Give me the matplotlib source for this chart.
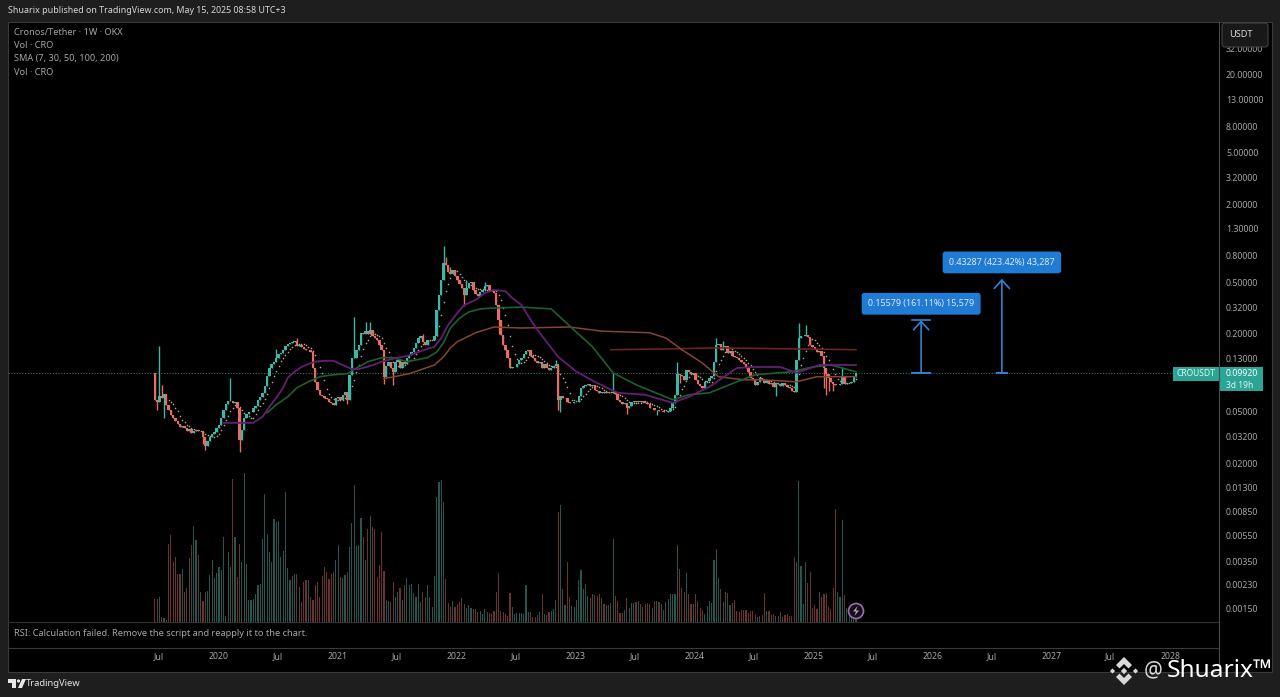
import datetime as dt

import numpy as np
import pandas as pd
import matplotlib
matplotlib.use("Agg")
import matplotlib.pyplot as plt
import matplotlib.dates as mdates
from matplotlib.patches import Polygon, Rectangle, Circle, FancyBboxPatch

# weekly closes
closes = [
 .062, .0598, .0665, .0642, .0689, .0567, .0518, .0474, .045, .0426,
 .0404, .0383, .039, .0376, .0356, .037, .0344, .0356, .0363, .0356,
 .0356, .032, .0273, .0298, .032, .0338, .035, .0376, .0397, .045,
 .0518, .0577, .0609, .0609, .0587, .0598, .0537, .0304, .0363, .045,
 .0483, .05, .05, .0537, .0557, .062, .0653, .0701, .0795, .095,
 .109, .117, .122, .131, .14, .143, .151, .162, .168, .171,
 .174, .177, .162, .165, .159, .153, .151, .151, .145, .109,
 .0853, .074, .0677, .0665, .0642, .0631, .0598, .0587, .0567, .0642,
 .0653, .062, .0677, .0714, .062, .0967, .131, .131, .151, .165,
 .204, .2, .21, .2, .215, .193, .186, .18, .165, .151,
 .0934, .113, .122, .109, .102, .122, .126, .109, .122, .117,
 .131, .137, .145, .156, .171, .186, .193, .174, .165, .18,
 .18, .18, .193, .306, .4, .52, .706, .68, .6, .58,
 .622, .56, .52, .486, .453, .4, .453, .495, .505, .436,
 .406, .392, .421, .436, .47, .478, .436, .428, .413, .334,
 .256, .196, .165, .151, .131, .109, .111, .111, .117, .126,
 .131, .14, .148, .151, .135, .131, .124, .119, .122, .109,
 .117, .109, .105, .109, .113, .117, .062, .0665, .0642, .0642,
 .0598, .0587, .0587, .0598, .0598, .0665, .0767, .0795, .0809, .0823,
 .0795, .0809, .074, .0727, .0701, .0714, .0701, .0714, .0701, .0701,
 .0714, .0689, .062, .0598, .0577, .0587, .0537, .0557, .0598, .0609,
 .0598, .0609, .0598, .0609, .0587, .0577, .0537, .0537, .0518, .0518,
 .0509, .0509, .05, .05, .0509, .0537, .0587, .0677, .0985, .0967,
 .095, .0884, .105, .102, .0985, .1, .0884, .0823, .0795, .0767,
 .0853, .0868, .0917, .095, .122, .165, .168, .151, .159, .162,
 .143, .148, .135, .133, .131, .126, .122, .117, .109, .102,
 .0917, .0884, .0809, .0853, .0917, .0884, .0838, .0884, .0823, .0838,
 .078, .0838, .0823, .0795, .0838, .0809, .078, .0767, .0727, .0714,
 .126, .186, .193, .193, .196, .19, .165, .159, .153, .145,
 .148, .135, .109, .0985, .0917, .0853, .0823, .0809, .0809, .0823,
 .095, .0823, .0838, .0838, .0853, .0934, .0992,
]
first_open = 0.1

# the wicks that stick out enough to read
high_weeks = [2, 3, 33, 53, 62, 87, 92, 94, 117, 126, 127, 129, 136, 144, 175, 200, 228, 245, 248, 281, 284, 300]
high_vals = [.162, .081, .0917, .152, .185, .27, .247, .247, .2, .96, .78, .66, .52, .5, .126, .1, .122, .186, .175, .243, .235, .11]
low_weeks = [1, 4, 21, 22, 37, 84, 100, 104, 135, 150, 176, 177, 206, 219, 229, 271, 292, 293, 294, 296]
low_vals = [.052, .045, .028, .0254, .0245, .057, .082, .081, .33, .2, .052, .05, .048, .047, .083, .0665, .077, .0677, .073, .072]

# volume, both Vol studies stacked on the same scale
volumes = [
 23, 23, 25, 5, 4, 2, 78, 87, 60, 65,
 48, 48, 53, 30, 34, 64, 77, 96, 82, 67,
 30, 21, 30, 31, 47, 62, 44, 49, 55, 52,
 85, 6, 70, 55, 143, 85, 45, 78, 60, 149,
 58, 22, 22, 23, 28, 37, 38, 83, 128, 88,
 70, 60, 103, 100, 101, 65, 71, 130, 54, 42,
 46, 48, 48, 35, 20, 40, 42, 42, 25, 22,
 37, 40, 25, 46, 55, 50, 43, 48, 50, 62,
 77, 45, 44, 47, 50, 75, 99, 137, 76, 77,
 104, 85, 62, 93, 106, 95, 93, 45, 57, 90,
 51, 22, 21, 20, 40, 25, 30, 34, 22, 37,
 44, 37, 38, 29, 25, 38, 20, 30, 25, 37,
 25, 15, 46, 125, 140, 142, 120, 43, 19, 15,
 21, 15, 18, 20, 24, 18, 14, 17, 14, 13,
 13, 10, 11, 8, 13, 10, 9, 8, 11, 30,
 49, 11, 10, 8, 6, 29, 15, 8, 9, 9,
 9, 8, 37, 10, 10, 5, 5, 7, 10, 28,
 8, 7, 10, 11, 13, 22, 110, 117, 33, 17,
 60, 25, 16, 15, 22, 42, 52, 33, 38, 26,
 24, 28, 27, 26, 28, 24, 18, 17, 17, 19,
 83, 26, 21, 9, 9, 12, 24, 14, 19, 19,
 20, 21, 18, 15, 18, 19, 18, 14, 21, 21,
 20, 18, 12, 20, 23, 28, 28, 28, 77, 53,
 34, 30, 49, 28, 18, 18, 28, 21, 14, 12,
 8, 16, 21, 19, 62, 73, 44, 33, 20, 30,
 29, 17, 19, 22, 11, 10, 12, 12, 12, 9,
 11, 11, 8, 5, 6, 7, 29, 11, 11, 7,
 8, 6, 6, 10, 5, 7, 8, 6, 6, 65,
 60, 141, 56, 18, 60, 39, 50, 14, 17, 13,
 30, 25, 28, 29, 15, 13, 34, 113, 30, 25,
 102, 27, 14, 10, 6, 5, 4,
]

# moving averages read as (week, price)
sma30_weeks = [30, 37, 43, 47, 50, 53, 56, 58, 61, 64, 67, 70, 74, 78, 81, 86, 89, 94, 99, 106, 110, 115, 119, 122, 125, 128, 132, 135, 140, 144, 148, 153,
               156, 160, 166, 176, 184, 192, 202, 214, 226, 233, 242, 254, 261, 273, 280, 290, 306]
sma30_vals = [.0411, .0411, .0411, .0458, .0547, .0642, .0767, .0917, .102, .111, .117, .122, .124, .124, .117, .107, .107, .113, .122, .131, .135, .145, .153, .159, .186, .234, .29, .334, .366, .413, .436, .428,
              .378, .334, .226, .133, .102, .0853, .0701, .0677, .0587, .0653, .078, .109, .111, .111, .1, .115, .115]
sma50_weeks = [49, 53, 58, 62, 67, 69, 72, 78, 84, 88, 93, 99, 104, 110, 119, 123, 126, 129, 133, 137, 142, 148, 160, 173, 182, 191, 200, 210, 226, 233, 242, 254, 262, 278, 287, 295, 306]
sma50_vals = [.0491, .0567, .0653, .0767, .0853, .0884, .0934, .0967, .0985, .109, .122, .131, .131, .122, .131, .145, .171, .222, .265, .295, .312, .317, .322, .312, .222, .159, .1, .0809, .062, .0677, .0701, .0853, .0967, .102, .111, .115, .102]
sma100_weeks = [100, 111, 122, 126, 129, 132, 140, 148, 160, 181, 195, 216, 223, 230, 239, 246, 257, 265, 280, 289, 306]
sma100_vals = [.0901, .0985, .115, .133, .156, .174, .204, .226, .222, .226, .21, .204, .186, .151, .119, .0934, .0884, .0884, .0853, .0934, .0934]
sma200_weeks = [199, 224, 245, 280, 306]
sma200_vals = [.151, .153, .156, .153, .151]

price_ticks = [32, 20, 13, 8, 5, 3.2, 2, 1.3, .8, .5, .32, .2, .13, .05, .032, .02, .013, .0085, .0055, .0035, .0023, .0015]
time_ticks = ["2019-07-01", "2020-01-01", "2020-07-01", "2021-01-01", "2021-07-01", "2022-01-01", "2022-07-01", "2023-01-01", "2023-07-01",
              "2024-01-01", "2024-07-01", "2025-01-01", "2025-07-01", "2026-01-01", "2026-07-01", "2027-01-01", "2027-07-01", "2028-01-01"]
time_labels = ["Jul", "2020", "Jul", "2021", "Jul", "2022", "Jul", "2023", "Jul", "2024", "Jul", "2025", "Jul", "2026", "Jul", "2027", "Jul", "2028"]

target_dates = ["2025-11-27", "2026-08-02"]
target_gains = [.15579, .43287]
target_labels = ["0.15579 (161.11%) 15,579", "0.43287 (423.42%) 43,287"]
base_tees = [27, 15]
top_tees = [27, 0]

W, H = 1280, 697
FONT = ["Noto Sans", "DejaVu Sans"]
plt.rcParams["font.family"] = FONT
UP, DOWN = "#3cb8a8", "#e66d62"
TXT = "#a3a6ab"
BLUE = "#2f83d6"


def px_axes(l, t, r, b, **kw):
    return fig.add_axes([l / W, 1 - b / H, (r - l) / W, (b - t) / H], **kw)


fig = plt.figure(figsize=(W / 100, H / 100), dpi=100, facecolor="#1e1e1e")

# page furniture sits in two pixel-coordinate layers
back = px_axes(0, 0, W, H, zorder=0)
back.set_xlim(0, W)
back.set_ylim(H, 0)
back.axis("off")
back.add_patch(Rectangle((8, 22), 1264, 650, fc="black", ec="#3a3a3a", lw=0.8))

base = mdates.date2num(dt.date(2020, 1, 1))
# first and last candle sit where the reference has them, slightly over a 7 day step
weeks = np.linspace(base - 197, base + 1957, len(closes))
xlim = (base - 648, base + 3072)

ax = px_axes(8, 22, 1219, 622, zorder=2)
ax.set_facecolor("none")
ax.set_yscale("log")
ax.set_xlim(xlim)
ax.set_ylim(0.00119, 51.3)

c = np.array(closes)
o = np.r_[first_open, c[:-1]]
hi = np.maximum(o, c)
lo = np.minimum(o, c)
hi[high_weeks] = high_vals
lo[low_weeks] = low_vals
up = c >= o
cols = np.where(up, UP, DOWN)

ax.axhline(closes[-1], color="#2f6f66", lw=0.8, ls=(0, (1, 1.5)), zorder=1)

sma7 = pd.Series(closes).rolling(7).mean()
ax.scatter(weeks, sma7, s=1.3, color="#d8c8a0", alpha=0.85, lw=0, zorder=2)

ax.vlines(weeks, lo, hi, colors=cols, lw=1.0, zorder=3)
ax.bar(weeks, np.abs(c - o), bottom=np.minimum(o, c), width=7.5, color=cols, lw=0, zorder=3)

ma_style = dict(zorder=4, solid_joinstyle="round")
ax.plot(weeks[sma200_weeks], sma200_vals, color="#72261d", lw=1.1, **ma_style)
ax.plot(weeks[sma100_weeks], sma100_vals, color="#84462f", lw=1.1, **ma_style)
ax.plot(weeks[sma50_weeks], sma50_vals, color="#1c6030", lw=1.2, **ma_style)
ax.plot(weeks[sma30_weeks], sma30_vals, color="#641f74", lw=1.3, **ma_style)

# measured targets above the last close
for d, g, label, bt, tt in zip(target_dates, target_gains, target_labels, base_tees, top_tees):
    x = mdates.date2num(dt.date.fromisoformat(d))
    top_price = closes[-1] + g
    ax.annotate("", xy=(x, top_price), xytext=(x, closes[-1]),
                arrowprops=dict(arrowstyle="->,head_width=0.55,head_length=0.6", color=BLUE, lw=1.2, shrinkA=0, shrinkB=0), zorder=5)
    ax.plot([x - bt, x + bt], [closes[-1], closes[-1]], color=BLUE, lw=1.4, zorder=5)
    if tt:
        ax.plot([x - tt, x + tt], [top_price, top_price], color=BLUE, lw=1.2, zorder=5)
    ax.text(x, top_price * 1.34, label, color="#dcecff", fontsize=6.4, fontweight="bold", ha="center", va="center", zorder=7,
            bbox=dict(boxstyle="round,pad=0.72,rounding_size=0.3", fc="#1f7bd3", ec="none"))

ax.yaxis.tick_right()
ax.set_yticks(price_ticks)
ax.set_yticklabels(["%.5f" % t for t in price_ticks], color=TXT, fontsize=6.3)
ax.minorticks_off()
ax.tick_params(axis="y", length=0, pad=5)
ax.tick_params(axis="x", length=0, labelbottom=False)
for s in ax.spines.values():
    s.set_visible(False)

# volume pane shares the bottom of the price pane
ax_vol = px_axes(8, 22, 1219, 622, zorder=1)
ax_vol.set_facecolor("none")
ax_vol.set_xlim(xlim)
ax_vol.set_ylim(0, 600)
ax_vol.axis("off")
vol_cols = np.where(up, "#255650", "#6a332f")
ax_vol.bar(weeks, volumes, width=3.5, color=vol_cols, lw=0)

# empty RSI pane carries the time axis
ax_rsi = px_axes(8, 622, 1219, 648, zorder=2)
ax_rsi.set_facecolor("none")
ax_rsi.set_xlim(xlim)
ax_rsi.set_ylim(0, 1)
ax_rsi.set_yticks([])
ax_rsi.set_xticks([mdates.date2num(dt.date.fromisoformat(t)) for t in time_ticks])
ax_rsi.set_xticklabels(time_labels, color=TXT, fontsize=6.3)
ax_rsi.tick_params(axis="x", length=0, pad=3)
for s in ax_rsi.spines.values():
    s.set_visible(False)
ax_rsi.text(6 / 1211, 0.55, "RSI: Calculation failed. Remove the script and reapply it to the chart.",
            transform=ax_rsi.transAxes, color=TXT, fontsize=6.65, va="center")

top = px_axes(0, 0, W, H, zorder=10)
top.set_facecolor("none")
top.set_xlim(0, W)
top.set_ylim(H, 0)
top.axis("off")

top.plot([8, 1219], [622, 622], color="#333333", lw=0.8)
top.plot([8, 1219], [648, 648], color="#3a3a3a", lw=0.8)
top.plot([1219, 1219], [22, 672], color="#4a4a4a", lw=0.8)

top.text(8, 10.5, "Shuarix published on TradingView.com, May 15, 2025 08:58 UTC+3", color="#d6d6d6", fontsize=6.4, fontweight="semibold", va="center")
legend_rows = ["Cronos/Tether · 1W · OKX", "Vol · CRO", "SMA (7, 30, 50, 100, 200)", "Vol · CRO"]
for y, row in zip([32.5, 46, 59, 72.5], legend_rows):
    top.text(14, y, row, color=TXT, fontsize=6.6, va="center")

# currency button covers the top of the scale, as in the reference
top.add_patch(FancyBboxPatch((1222, 23), 46, 24, boxstyle="round,pad=0,rounding_size=3", fc="#181818", ec="#444444", lw=0.8))
top.text(1229, 34.5, "USDT", color="#d8d8d8", fontsize=6.6, fontweight="semibold", va="center")

# last price tag
top.add_patch(Rectangle((1173, 367), 46, 14, fc="#2aa596", ec="none"))
top.add_patch(Rectangle((1219, 367), 44, 24, fc="#2aa596", ec="none"))
top.text(1196, 374, "CROUSDT", color="#e4f5f2", fontsize=6.1, ha="center", va="center")
top.text(1226, 374, "0.09920", color="#ffffff", fontsize=6.3, fontweight="semibold", va="center")
top.text(1226, 385, "3d 19h", color="#e4f5f2", fontsize=6.1, va="center")

# lightning button
top.add_patch(Circle((856, 611), 7.5, fc="#151018", ec="#9b6fb5", lw=1.2))
top.add_patch(Polygon([(857.5, 606), (853, 611.5), (856, 611.5), (854.5, 616), (859, 610.5), (856, 610.5)], fc="#b9a0c8", ec="none"))

# footer logo
top.add_patch(Polygon([(8, 679), (16, 679), (16, 688), (12, 688), (12, 683), (8, 683)], fc="#e8e8e8", ec="none"))
top.add_patch(Circle((18.5, 681), 1.6, fc="#e8e8e8", ec="none"))
top.add_patch(Polygon([(22, 679), (26, 679), (22, 688), (18, 688)], fc="#e8e8e8", ec="none"))
top.text(26, 683.5, "TradingView", color="#e6e6e6", fontsize=6.8, fontweight="bold", va="center")

# binance style mark and the watermark
MARK = "#d8d8d8"
top.add_patch(Polygon([(1124, 657), (1132, 665), (1128.5, 668.5), (1124, 664), (1119.5, 668.5), (1116, 665)], fc=MARK, ec="none"))
top.add_patch(Polygon([(1124, 685), (1132, 677), (1128.5, 673.5), (1124, 678), (1119.5, 673.5), (1116, 677)], fc=MARK, ec="none"))
for cx, r in [(1112.5, 2.6), (1135.5, 2.6), (1124, 3.2)]:
    top.add_patch(Polygon([(cx - r, 671), (cx, 671 - r), (cx + r, 671), (cx, 671 + r)], fc=MARK, ec="none"))
top.text(1144, 671, "@", color=MARK, fontsize=15, va="center")
top.text(1167, 671, "Shuarix™", color="#ffffff", fontsize=17.6, va="center")

fig.savefig("out.png", dpi=100, facecolor=fig.get_facecolor())
